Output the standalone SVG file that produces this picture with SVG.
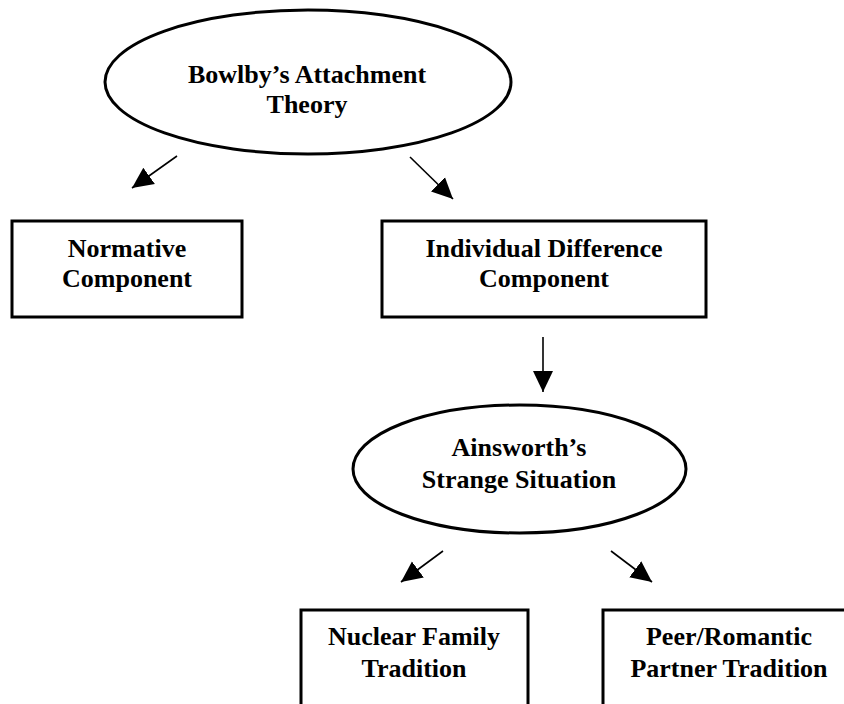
<svg xmlns="http://www.w3.org/2000/svg" width="844" height="704" viewBox="0 0 844 704">
<style>
.shape{fill:#fff;stroke:#000;stroke-width:3}
.lbl{font-family:"Liberation Serif","Times New Roman",serif;font-weight:bold;font-size:26px;fill:#000;text-anchor:middle}
.conn{stroke:#000;stroke-width:1.6;fill:none;marker-end:url(#ah)}
</style>
<defs>
<marker id="ah" markerUnits="userSpaceOnUse" markerWidth="22" markerHeight="22" viewBox="0 0 22 22" refX="21" refY="11" orient="auto">
<path d="M0,1 L21,11 L0,21 Z" fill="#000"/>
</marker>
</defs>
<rect width="844" height="704" fill="#fff"/>
<g id="bowlby">
<ellipse class="shape" cx="308" cy="82" rx="203" ry="72"/>
<text class="lbl" x="307" y="83">Bowlby’s Attachment</text>
<text class="lbl" x="307" y="113">Theory</text>
</g>
<g id="normative">
<rect class="shape" x="12" y="221" width="230" height="96"/>
<text class="lbl" x="127" y="257">Normative</text>
<text class="lbl" x="127" y="287">Component</text>
</g>
<g id="individual">
<rect class="shape" x="382" y="221" width="324" height="96"/>
<text class="lbl" x="544" y="257">Individual Difference</text>
<text class="lbl" x="544" y="287">Component</text>
</g>
<g id="ainsworth">
<ellipse class="shape" cx="519.5" cy="469" rx="166.5" ry="64"/>
<text class="lbl" x="519" y="456">Ainsworth’s</text>
<text class="lbl" x="519" y="488">Strange Situation</text>
</g>
<g id="nuclear">
<rect class="shape" x="301" y="610" width="227" height="100"/>
<text class="lbl" x="414" y="645">Nuclear Family</text>
<text class="lbl" x="414" y="677">Tradition</text>
</g>
<g id="peer">
<rect class="shape" x="603" y="610" width="260" height="100"/>
<text class="lbl" x="729" y="645">Peer/Romantic</text>
<text class="lbl" x="729" y="677">Partner Tradition</text>
</g>
<g id="connectors">
<line class="conn" x1="177" y1="156" x2="132" y2="188"/>
<line class="conn" x1="410" y1="157" x2="453" y2="199"/>
<line class="conn" x1="543" y1="337" x2="543" y2="392"/>
<line class="conn" x1="443" y1="551" x2="401" y2="582"/>
<line class="conn" x1="611" y1="551" x2="652" y2="582"/>
</g>
</svg>
